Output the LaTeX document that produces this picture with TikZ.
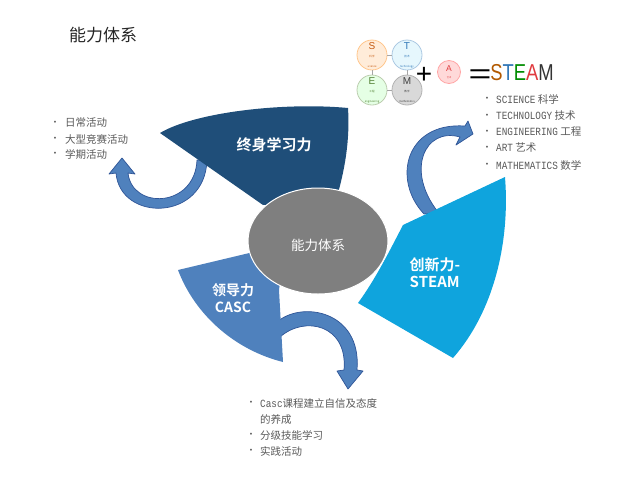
\documentclass[tikz,border=0pt]{standalone}
\usepackage{fontspec}
\setmainfont{Noto Sans CJK SC}[BoldFont={Noto Sans CJK SC Bold}]
\setmonofont{Liberation Mono}
\newfontfamily\arialfont{Liberation Sans}
\usetikzlibrary{shapes.geometric}
\definecolor{navy}{HTML}{1F4E79}
\definecolor{steel}{HTML}{4F81BD}
\definecolor{sky}{HTML}{0FA4DD}
\definecolor{arrowline}{HTML}{2F5597}
\definecolor{listgray}{HTML}{595959}
\definecolor{coregray}{HTML}{7F7F7F}
\definecolor{sorange}{HTML}{C55A11}
\definecolor{tblue}{HTML}{2E75B6}
\definecolor{egreen}{HTML}{548235}
\definecolor{ared}{HTML}{E03A3E}
\newcommand{\lat}[1]{\scalebox{0.85}[1]{\ttfamily\fontsize{11}{12}\selectfont #1}}
\newcommand{\minitext}[1]{{\fontsize{2.6}{3}\selectfont #1}}
\tikzset{
  bend arrow/.style={fill=steel, draw=arrowline, line width=0.7pt, line join=round},
  petal label/.style={text=white, font=\bfseries\fontsize{15}{17}\selectfont, align=center},
  listdot/.style={text=listgray, font=\arialfont\fontsize{7}{8}\selectfont, inner sep=0pt},
  listitem/.style={anchor=west, text=listgray, font=\fontsize{10.5}{12}\selectfont, inner sep=0pt},
  steam circle/.style={circle, minimum size=30pt, inner sep=0pt, line width=0.8pt, align=center,
    font=\fontsize{10}{10}\selectfont},
  link/.style={draw=black!35, line width=0.6pt}
}
\begin{document}
\begin{tikzpicture}[x=1pt, y=-1pt]
\useasboundingbox (0,0) rectangle (640,480);
% title
\node[text=black!85, font=\fontsize{17}{20}\selectfont] (title) at (103,35) {能力体系};

% curved arrows (under the petals)
\draw[bend arrow] (197,160) .. controls (195,208) and (132,210) .. (128,173)
  -- (135,174) -- (122,158) -- (109,174) -- (116,173)
  .. controls (120,222) and (205,222) .. (207,160) -- cycle;
\draw[bend arrow] (424,214) .. controls (392,180) and (405,122) .. (465,126)
  -- (468,121) -- (473,134) -- (456,145) -- (460,137)
  .. controls (425,127) and (405,170) .. (438,212) -- cycle;
\draw[bend arrow] (276,323) .. controls (300,300) and (362,310) .. (357,370)
  -- (363,371) -- (348,389) -- (337,371) -- (344,370)
  .. controls (348,325) and (305,315) .. (280,337) -- cycle;

% petals
\fill[navy] (160,133) .. controls (195,112) and (285,102) .. (348,108)
  .. controls (350,140) and (345,170) .. (336,200) -- (263,205) -- cycle;
\fill[steel] (178,270) -- (262,250) -- (282,268) -- (279,290) -- (283,362)
  .. controls (235,350) and (195,315) .. (178,270) -- cycle;
\fill[sky] (403,225) -- (505,177) .. controls (510,240) and (495,310) .. (453,358)
  -- (358,303) .. controls (375,280) and (390,250) .. (403,225) -- cycle;

% centre
\node[ellipse, fill=coregray, draw=white, line width=1pt, minimum width=140pt,
  minimum height=106pt] (core) at (318,241) {};
\node[text=white, font=\fontsize{13.5}{15}\selectfont] (coretext) at (318,245) {能力体系};

\node[petal label] (lifelong) at (274,145) {终身学习力};
\node[petal label, font=\bfseries\fontsize{14}{17}\selectfont] (lead) at (233,298) {领导力\\CASC};
\node[petal label, align=left] (innov) at (435,273) {创新力-\\STEAM};

% S T E M + A = STEAM
\node[steam circle, fill=orange!15, draw=orange!45, text=sorange] (s) at (372,55)
  {{\arialfont S}\\[-2pt]\minitext{科学}\\\minitext{science}};
\node[steam circle, fill=cyan!10, draw=tblue!40, text=tblue] (t) at (407,55)
  {{\arialfont T}\\[-2pt]\minitext{技术}\\\minitext{technology}};
\node[steam circle, fill=green!10, draw=egreen!40, text=egreen] (e) at (372,90)
  {{\arialfont E}\\[-2pt]\minitext{工程}\\\minitext{engineering}};
\node[steam circle, fill=black!15, draw=black!30, text=black!75] (m) at (407,90)
  {{\arialfont M}\\[-2pt]\minitext{数学}\\\minitext{mathematics}};
\draw[link] (s) -- (t);
\draw[link] (s) -- (e);
\draw[link] (t) -- (m);
\draw[link] (e) -- (m);
\node[font=\arialfont\fontsize{28}{28}\selectfont] (plus) at (424,75) {+};
\node[steam circle, minimum size=23pt, fill=red!15, draw=red!35, text=ared,
  font=\fontsize{8.5}{8.5}\selectfont] (a) at (449,72)
  {{\arialfont A}\\[-2pt]{\fontsize{2.2}{2.5}\selectfont 艺术}};
\node[font=\arialfont\fontsize{28}{28}\selectfont] (equals) at (480,77) {\scalebox{1.4}[1]{=}};
\node[font=\arialfont\fontsize{23}{23}\selectfont] (steam) at (522,73)
  {\scalebox{0.8}[1]{\textcolor{orange!70!black}{S}\textcolor{tblue}{T}\textcolor{green!55!black}{E}\textcolor{ared}{A}\textcolor{black!80}{M}}};

% STEAM list
\node[listdot] (d1) at (487,99) {•};
\node[listitem] (sci) at (496,99) {\lat{SCIENCE} 科学};
\node[listdot] (d2) at (487,116) {•};
\node[listitem] (tec) at (496,116) {\lat{TECHNOLOGY} 技术};
\node[listdot] (d3) at (487,132) {•};
\node[listitem] (eng) at (496,132) {\lat{ENGINEERING} 工程};
\node[listdot] (d4) at (487,148) {•};
\node[listitem] (art) at (496,148) {\lat{ART} 艺术};
\node[listdot] (d5) at (487,165) {•};
\node[listitem] (mat) at (496,165) {\lat{MATHEMATICS} 数学};

% lifelong list
\node[listdot] (l1) at (55,123) {•};
\node[listitem] (daily) at (65,123) {日常活动};
\node[listdot] (l2) at (55,139) {•};
\node[listitem] (contest) at (65,139) {大型竞赛活动};
\node[listdot] (l3) at (55,154) {•};
\node[listitem] (term) at (65,154) {学期活动};

% leadership list
\node[listdot] (b1) at (251,403) {•};
\node[listitem] (casc) at (260,403) {\lat{Casc}课程建立自信及态度};
\node[listitem] (casc2) at (260,419) {的养成};
\node[listdot] (b2) at (251,435) {•};
\node[listitem] (skill) at (260,435) {分级技能学习};
\node[listdot] (b3) at (251,451) {•};
\node[listitem] (practice) at (260,451) {实践活动};
\end{tikzpicture}
\end{document}
